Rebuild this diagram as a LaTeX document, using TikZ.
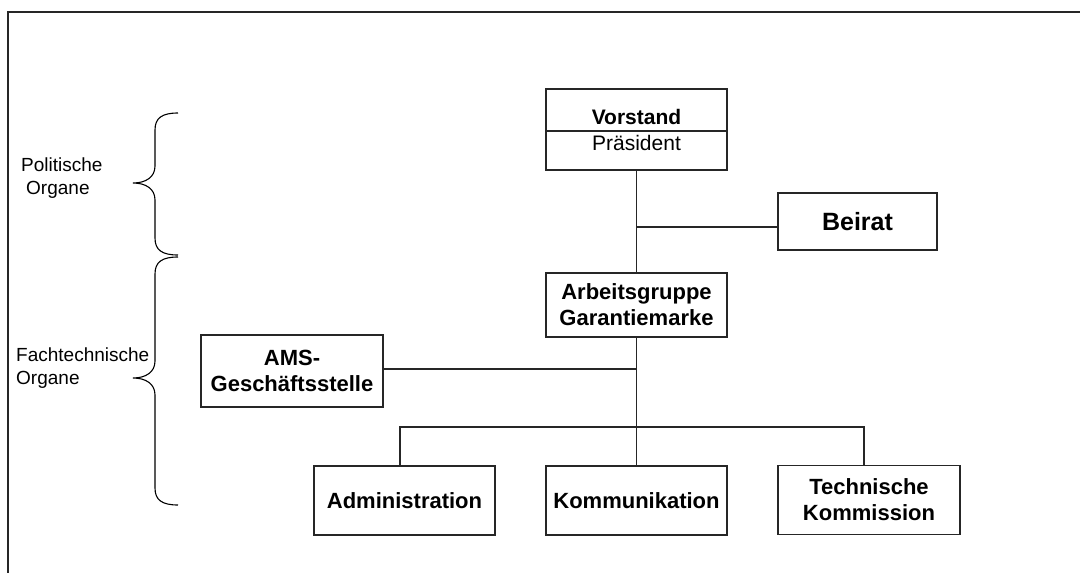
\documentclass[tikz,border=0pt]{standalone}
\usepackage{fontspec}
\setmainfont{Liberation Sans}
\begin{document}
\begin{tikzpicture}[x=1pt,y=-1pt,
  box/.style={draw=black!85,line width=1.2pt,inner sep=0pt,align=center,
    font=\bfseries\fontsize{22}{26}\selectfont},
  conn/.style={draw=black!85,line width=1.1pt},
  lbl/.style={inner sep=0pt,align=left,anchor=west,font=\fontsize{19}{25}\selectfont},
  brace/.style={draw=black,line width=1.1pt}]
\useasboundingbox (0,0) rectangle (1080,573);
% frame
\draw[line width=1.4pt,black!85] (8,573) -- (8,12) -- (1080,12);
% boxes
\node[box,minimum width=181pt,minimum height=81pt] (vor) at (636.5,129.5) {};
\draw[conn] (546,131) -- (727,131);
\node[inner sep=0pt,font=\bfseries\fontsize{21}{25}\selectfont] (vort) at (636.5,117) {Vorstand};
\node[inner sep=0pt,font=\fontsize{21}{25}\selectfont] (pres) at (636.5,143) {Präsident};
\node[box,minimum width=159pt,minimum height=57pt,font=\bfseries\fontsize{25}{29}\selectfont] (bei) at (857.5,221.5) {Beirat};
\node[box,minimum width=181pt,minimum height=64pt] (ag) at (636.5,305) {Arbeitsgruppe\\Garantiemarke};
\node[box,minimum width=182pt,minimum height=72pt] (ams) at (292,371) {AMS-\\Geschäftsstelle};
\node[box,minimum width=181pt,minimum height=69pt] (adm) at (404.5,500.5) {Administration};
\node[box,minimum width=181pt,minimum height=69pt] (kom) at (636.5,500.5) {Kommunikation};
\node[box,minimum width=182pt,minimum height=69pt] (tec) at (869,500) {Technische\\Kommission};
% connectors
\coordinate (jb) at (636.5,227);
\coordinate (ja) at (636.5,369);
\coordinate (hub) at (636.5,427);
\coordinate (hl) at (400,427);
\coordinate (hr) at (864,427);
\draw[conn] (vor.south) -- (ag.north);
\draw[conn] (jb) -- (jb -| bei.west);
\draw[conn] (ag.south) -- (kom.north);
\draw[conn] (ams.east |- ja) -- (ja);
\draw[conn] (hl |- adm.north) -- (hl) -- (hr) -- (hr |- tec.north);
% labels
\node[lbl] (pol1) at (21,165) {Politische};
\node[lbl] (pol2) at (26,190) {Organe};
\node[lbl] (fach1) at (16,355) {Fachtechnische};
\node[lbl] (fach2) at (16,380) {Organe};
% braces
\draw[brace] (178,113) .. controls (162,113) and (155,118) .. (155,130) -- (155,166)
  .. controls (155,177) and (146,183) .. (133,183)
  .. controls (146,183) and (155,189) .. (155,200) -- (155,238)
  .. controls (155,250) and (162,255) .. (178,255);
\draw[brace] (178,257) .. controls (162,257) and (155,262) .. (155,274) -- (155,361)
  .. controls (155,372) and (146,378) .. (133,378)
  .. controls (146,378) and (155,384) .. (155,395) -- (155,488)
  .. controls (155,500) and (162,505) .. (178,505);
\end{tikzpicture}
\end{document}
